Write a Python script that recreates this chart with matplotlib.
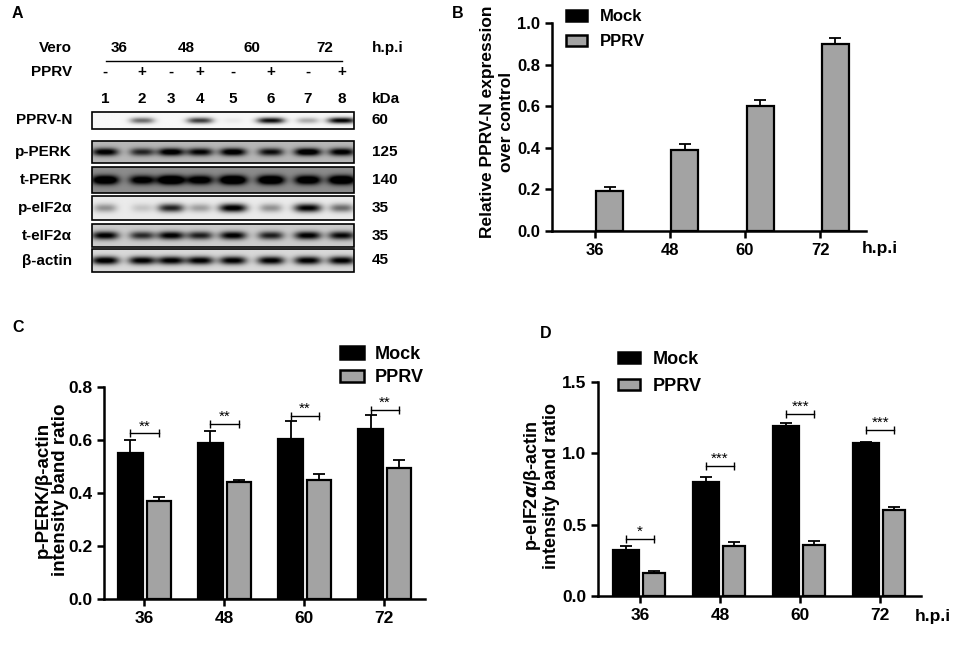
import matplotlib
matplotlib.use("Agg")
import matplotlib.pyplot as plt
from matplotlib.patches import Patch, Rectangle
import numpy as np

plt.rcParams["font.family"] = ["Liberation Sans", "DejaVu Sans"]
plt.rcParams["font.weight"] = "bold"
plt.rcParams["mathtext.fontset"] = "dejavusans"

# ---- data ----
hours = ["36", "48", "60", "72"]
lanes = ["1", "2", "3", "4", "5", "6", "7", "8"]
pprv_sign = ["-", "+", "-", "+", "-", "+", "-", "+"]
blot_labels = ["PPRV-N", "p-PERK", "t-PERK", "p-eIF2α", "t-eIF2α", "β-actin"]
blot_kda = ["60", "125", "140", "35", "35", "45"]
# band darkness per lane (0 = none, 1 = black), background darkness per row
blot_bands = [
    [0.0, 0.55, 0.0, 0.75, 0.05, 0.95, 0.3, 1.0],
    [0.8, 0.6, 0.85, 0.75, 0.85, 0.7, 0.9, 0.8],
    [0.85, 0.7, 0.95, 0.75, 0.95, 0.9, 0.8, 0.9],
    [0.35, 0.15, 0.8, 0.3, 1.0, 0.35, 0.95, 0.5],
    [0.85, 0.65, 0.85, 0.7, 0.85, 0.7, 0.85, 0.8],
    [0.95, 0.9, 0.9, 0.9, 0.9, 0.9, 0.9, 0.9],
]
blot_bg = [0.03, 0.28, 0.45, 0.08, 0.2, 0.15]

b_pprv = [0.19, 0.39, 0.60, 0.90]
b_pprv_err = [0.02, 0.03, 0.03, 0.03]

c_mock = [0.55, 0.59, 0.605, 0.64]
c_mock_err = [0.05, 0.045, 0.065, 0.055]
c_pprv = [0.37, 0.44, 0.45, 0.495]
c_pprv_err = [0.015, 0.01, 0.02, 0.03]
c_sig = ["**", "**", "**", "**"]
c_sig_y = [0.625, 0.66, 0.69, 0.715]

d_mock = [0.32, 0.80, 1.19, 1.07]
d_mock_err = [0.027, 0.035, 0.022, 0.01]
d_pprv = [0.16, 0.35, 0.36, 0.60]
d_pprv_err = [0.014, 0.027, 0.024, 0.026]
d_sig = ["*", "***", "***", "***"]
d_sig_y = [0.40, 0.91, 1.275, 1.165]

GRAY = "#a3a3a3"
W, H = 957, 646
fig = plt.figure(figsize=(W / 100, H / 100), dpi=100)


def rect(x0, y0, x1, y1):
    return [x0 / W, 1 - y1 / H, (x1 - x0) / W, (y1 - y0) / H]


# ---------------- panel A: blot ----------------
axa = fig.add_axes([0, 0, 1, 1])
axa.set_xlim(0, W)
axa.set_ylim(H, 0)
axa.axis("off")

lane_x = [105, 142, 171, 200, 233, 271, 308, 342]
rows_y = [(112, 129), (141, 163), (167, 193), (196, 220), (224, 247), (249, 272)]
bx0, bx1 = 92, 354
FA = 11

for i, (y0, y1) in enumerate(rows_y):
    xs = np.linspace(bx0, bx1, 400)
    ys = np.linspace(y0, y1, 60)
    X, Y = np.meshgrid(xs, ys)
    yc = (y0 + y1) / 2
    dark = np.full(X.shape, blot_bg[i])
    for lx, v in zip(lane_x, blot_bands[i]):
        hw = 10 + 4 * v
        dark += v * np.exp(-np.abs((X - lx) / hw) ** 3) * np.exp(-((Y - yc) / ((y1 - y0) * 0.18)) ** 2)
    dark = np.clip(dark, 0, 1)
    axa.imshow(1 - dark, cmap="gray", vmin=0, vmax=1, extent=(bx0, bx1, y1, y0),
               aspect="auto", interpolation="bilinear")
    axa.add_patch(Rectangle((bx0, y0), bx1 - bx0, y1 - y0, fill=False, ec="black", lw=1.2))
    axa.text(72, yc, blot_labels[i], ha="right", va="center", fontsize=FA)
    axa.text(372, yc, blot_kda[i], ha="left", va="center", fontsize=FA)

axa.text(72, 48, "Vero", ha="right", va="center", fontsize=FA)
axa.text(72, 72, "PPRV", ha="right", va="center", fontsize=FA)
for hx, h in zip([119, 186, 252, 325], hours):
    axa.text(hx, 48, h, ha="center", va="center", fontsize=FA)
axa.plot([106, 342], [61, 61], color="black", lw=1)
for lx, s, n in zip(lane_x, pprv_sign, lanes):
    axa.text(lx, 72, s, ha="center", va="center", fontsize=FA)
    axa.text(lx, 99, n, ha="center", va="center", fontsize=FA)
axa.text(372, 48, "h.p.i", ha="left", va="center", fontsize=FA)
axa.text(372, 99, "kDa", ha="left", va="center", fontsize=FA)

axa.text(12, 14, "A", ha="left", va="center", fontsize=11.5)
axa.text(452, 14, "B", ha="left", va="center", fontsize=11.5)
axa.text(12, 327, "C", ha="left", va="center", fontsize=11.5)
axa.text(540, 333, "D", ha="left", va="center", fontsize=11.5)


def style(ax, ylim, yticks, fs):
    ax.set_ylim(*ylim)
    ax.set_yticks(yticks)
    ax.set_xticks(range(len(hours)))
    ax.set_xticklabels(hours)
    for s in ["top", "right"]:
        ax.spines[s].set_visible(False)
    for s in ["left", "bottom"]:
        ax.spines[s].set_linewidth(1.8)
    ax.tick_params(width=1.8, length=5, labelsize=fs, direction="out")
    for t in ax.get_xticklabels() + ax.get_yticklabels():
        t.set_fontweight("bold")
    ax.yaxis.set_major_formatter(matplotlib.ticker.FormatStrFormatter("%.1f"))
    ax.patch.set_alpha(0)


def draw_bars(ax, x, vals, errs, w, color):
    ax.bar(x, vals, w, color=color, edgecolor="black", linewidth=1.6, zorder=3)
    ax.errorbar(x, vals, yerr=[np.zeros(len(errs)), errs], fmt="none", ecolor="black",
                elinewidth=1.3, capsize=4, capthick=1.3, zorder=2, clip_on=False)


def brackets(ax, x0, x1, ys, labels, fs):
    for a, b, y, s in zip(x0, x1, ys, labels):
        ax.plot([a, b], [y, y], color="black", lw=1, marker="|", markersize=6, mew=1, zorder=4)
        ax.annotate(s, ((a + b) / 2, y), xytext=(0, 0), textcoords="offset points",
                    ha="center", va="bottom", fontsize=fs, fontweight="normal")


def legend(ax, x, y, fs, hl, hh, sp, pad):
    hs = [Patch(fc="black", ec="black", lw=1.8), Patch(fc=GRAY, ec="black", lw=1.8)]
    ax.legend(hs, ["Mock", "PPRV"], loc="upper left", bbox_to_anchor=(x / W, 1 - y / H),
              bbox_transform=fig.transFigure, frameon=False,
              handlelength=hl, handleheight=hh, labelspacing=sp, handletextpad=pad,
              borderpad=0, borderaxespad=0, prop={"weight": "bold", "size": fs})


x = np.arange(len(hours))

# ---------------- panel B ----------------
axb = fig.add_axes(rect(552, 23, 866, 231))
draw_bars(axb, x + 0.2, b_pprv, b_pprv_err, 0.36, GRAY)
axb.set_xlim(-0.57, 3.61)
style(axb, (0, 1.0), np.arange(0, 1.01, 0.2), 12)
legend(axb, 566, 9, 12, 1.25, 0.65, 0.6, 0.8)
fig.text(497 / W, 1 - 122 / H, "Relative PPRV-N expression\nover control", rotation=90,
         ha="center", va="center", fontsize=12.5, linespacing=1.3)
fig.text(862 / W, 1 - 248 / H, "h.p.i", ha="left", va="center", fontsize=12.5)

# ---------------- panel C ----------------
axc = fig.add_axes(rect(104, 387, 425, 599))
draw_bars(axc, x - 0.17, c_mock, c_mock_err, 0.31, "black")
draw_bars(axc, x + 0.19, c_pprv, c_pprv_err, 0.30, GRAY)
axc.set_xlim(-0.5, 3.51)
style(axc, (0, 0.8), np.arange(0, 0.81, 0.2), 12.5)
brackets(axc, x - 0.17, x + 0.19, c_sig_y, c_sig, 11)
legend(axc, 340, 346, 13, 1.35, 0.7, 0.35, 0.6)
fig.text(52 / W, 1 - 490 / H, "p-PERK/β-actin\nintensity band ratio", rotation=90,
         ha="center", va="center", fontsize=13.5, linespacing=1.05)

# ---------------- panel D ----------------
axd = fig.add_axes(rect(598, 382, 921, 596))
draw_bars(axd, x - 0.175, d_mock, d_mock_err, 0.32, "black")
draw_bars(axd, x + 0.175, d_pprv, d_pprv_err, 0.28, GRAY)
axd.set_xlim(-0.525, 3.51)
style(axd, (0, 1.5), np.arange(0, 1.51, 0.5), 12.5)
brackets(axd, x - 0.175, x + 0.175, d_sig_y, d_sig, 11)
legend(axd, 618, 351, 13, 1.2, 0.6, 0.55, 0.7)
fig.text(541 / W, 1 - 486 / H, "p-eIF2$\\alpha$/β-actin\nintensity band ratio", rotation=90,
         ha="center", va="center", fontsize=13, linespacing=1.05)
fig.text(915 / W, 1 - 616 / H, "h.p.i", ha="left", va="center", fontsize=12.5)

fig.savefig("out.png", dpi=100)
